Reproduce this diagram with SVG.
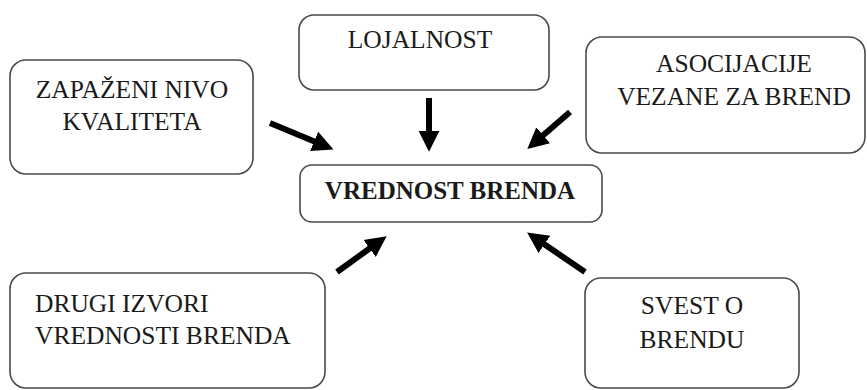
<svg xmlns="http://www.w3.org/2000/svg" width="867" height="390" viewBox="0 0 867 390">
  <style>
    .box { fill: #ffffff; stroke: #4a4a4a; stroke-width: 1.6; }
    .t { font-family: 'Liberation Serif', serif; font-size: 25.5px; fill: #1a1a1a; }
    .c { text-anchor: middle; }
    .b { font-weight: bold; font-size: 25px; }
    .arr { stroke: #000000; stroke-width: 6; fill: none; marker-end: url(#ah); }
  </style>
  <defs>
    <marker id="ah" viewBox="0 0 10 10" refX="2" refY="5" markerWidth="3.5" markerHeight="3.7" orient="auto" markerUnits="strokeWidth">
      <path d="M0,0 L10,5 L0,10 Z" fill="#000000"/>
    </marker>
  </defs>
  <rect width="867" height="390" fill="#ffffff"/>

  <g id="connectors">
    <line class="arr" x1="270" y1="123" x2="318" y2="143"/>
    <line class="arr" x1="429" y1="98" x2="429" y2="135"/>
    <line class="arr" x1="570" y1="112" x2="540" y2="138"/>
    <line class="arr" x1="337" y1="272" x2="373" y2="246"/>
    <line class="arr" x1="585" y1="272" x2="541" y2="242"/>
  </g>

  <g id="node-kvalitet">
    <rect class="box" x="10" y="60" width="243" height="114" rx="16"/>
    <text class="t c" x="132" y="98">ZAPAŽENI NIVO</text>
    <text class="t c" x="132" y="130">KVALITETA</text>
  </g>

  <g id="node-lojalnost">
    <rect class="box" x="299" y="15" width="250" height="75" rx="15"/>
    <text class="t c" x="420" y="48">LOJALNOST</text>
  </g>

  <g id="node-asocijacije">
    <rect class="box" x="586" y="37" width="279" height="116" rx="16"/>
    <text class="t c" x="734" y="72">ASOCIJACIJE</text>
    <text class="t c" x="734" y="105">VEZANE ZA BREND</text>
  </g>

  <g id="node-vrednost">
    <rect class="box" x="300" y="165" width="302" height="57" rx="12"/>
    <text class="t c b" x="450" y="199">VREDNOST BRENDA</text>
  </g>

  <g id="node-drugi">
    <rect class="box" x="10" y="273" width="315" height="115" rx="16"/>
    <text class="t" x="35" y="312">DRUGI IZVORI</text>
    <text class="t" x="35" y="344">VREDNOSTI BRENDA</text>
  </g>

  <g id="node-svest">
    <rect class="box" x="585" y="278" width="214" height="110" rx="16"/>
    <text class="t c" x="692" y="314">SVEST O</text>
    <text class="t c" x="692" y="348">BRENDU</text>
  </g>
</svg>
